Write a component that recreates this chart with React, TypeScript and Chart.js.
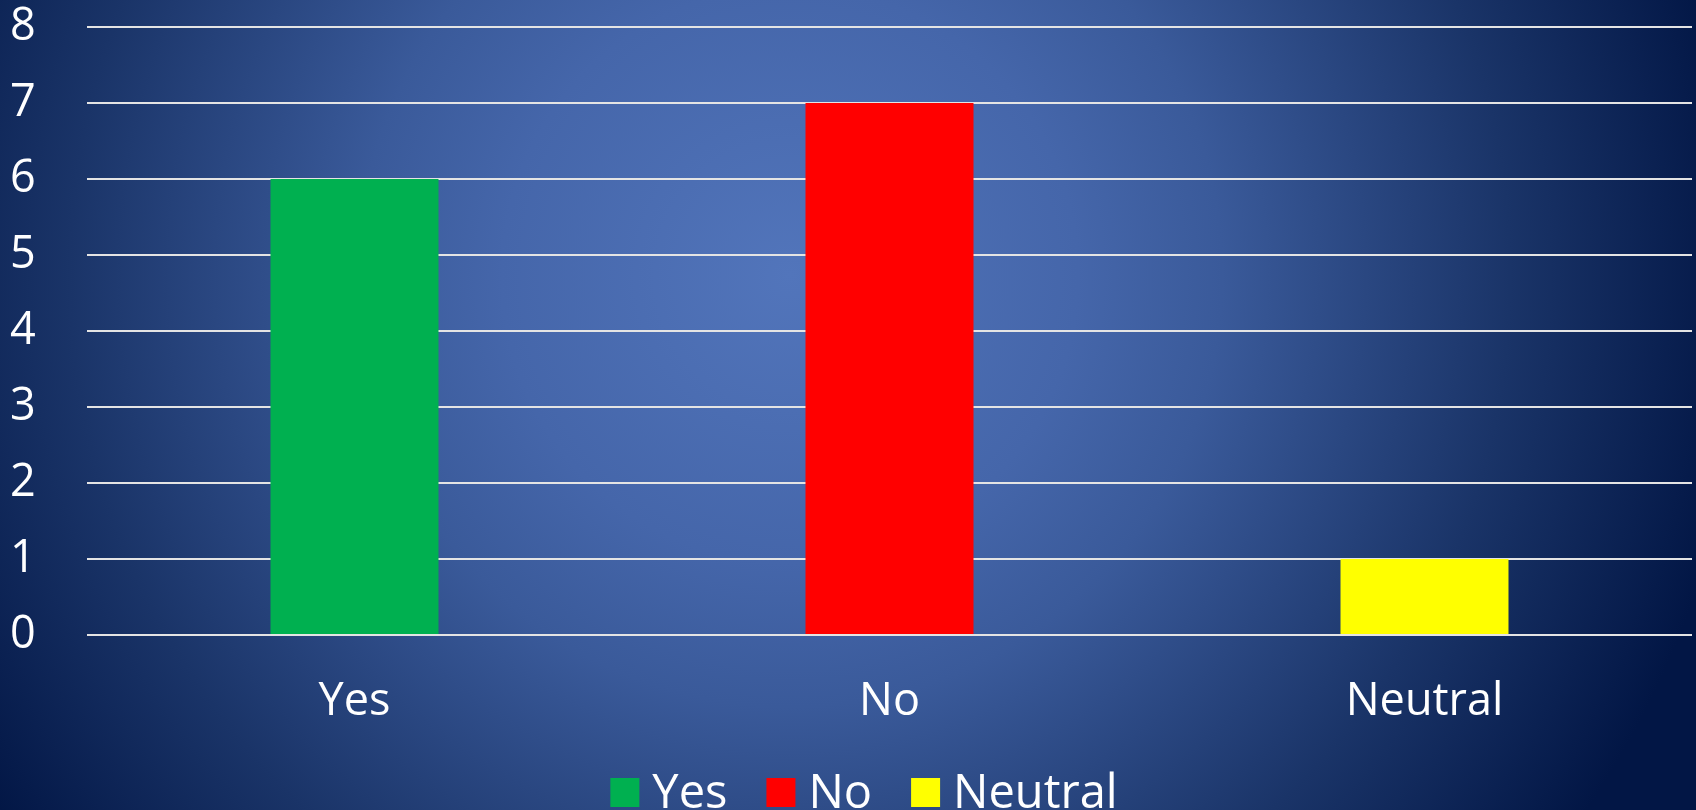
import React, { useEffect, useRef } from "react";
import { Chart, registerables } from "chart.js";

Chart.register(...registerables);

const categories = ["Yes", "No", "Neutral"];
const values = [6, 7, 1];
const barColors = ["#00b050", "#ff0000", "#ffff00"];
const yTicks = [0, 1, 2, 3, 4, 5, 6, 7, 8];

const FONT = "'Open Sans', 'Noto Sans', sans-serif";
const W = 1696;
const H = 810;

const bgPlugin = {
  id: "bg",
  beforeDraw(chart: any) {
    const { ctx, width, height } = chart;
    ctx.save();
    const g = ctx.createRadialGradient(790, 275, 0, 790, 275, 960);
    g.addColorStop(0, "#5275bb");
    g.addColorStop(0.3, "#4566aa");
    g.addColorStop(0.45, "#3a5a9a");
    g.addColorStop(0.75, "#1a3468");
    g.addColorStop(1, "#021645");
    ctx.fillStyle = g;
    ctx.fillRect(0, 0, width, height);
    ctx.restore();
  },
};

// Office-style legend: small square, tight gap to text, wider gap between entries
const legendPlugin = {
  id: "officeLegend",
  afterDraw(chart: any) {
    const { ctx } = chart;
    const box = 29;
    const gapBoxText = 13;
    const gapItems = 39;
    const centerX = 864;
    const boxTop = 778;
    const baseline = 808;
    ctx.save();
    ctx.font = `47px ${FONT}`;
    const widths = categories.map((c) => ctx.measureText(c).width);
    const total =
      widths.reduce((s, w) => s + box + gapBoxText + w, 0) + gapItems * (categories.length - 1);
    let x = centerX - total / 2;
    categories.forEach((c, i) => {
      ctx.fillStyle = barColors[i];
      ctx.fillRect(x, boxTop, box, box);
      x += box + gapBoxText;
      ctx.fillStyle = "#ffffff";
      ctx.textBaseline = "alphabetic";
      ctx.textAlign = "left";
      ctx.fillText(c, x, baseline);
      x += widths[i] + gapItems;
    });
    ctx.restore();
  },
};

export default function App() {
  const ref = useRef<HTMLCanvasElement>(null);
  useEffect(() => {
    if (!ref.current) return;
    const chart = new Chart(ref.current, {
      type: "bar",
      data: {
        labels: categories,
        datasets: [
          {
            label: "Series",
            data: values,
            backgroundColor: barColors,
            borderWidth: 0,
            barPercentage: 0.314,
            categoryPercentage: 1,
          },
        ],
      },
      plugins: [bgPlugin, legendPlugin],
      options: {
        responsive: false,
        animation: false,
        layout: { padding: { top: 0, right: 4, left: 10, bottom: 0 } },
        plugins: {
          tooltip: { enabled: false },
          legend: { display: false },
        },
        scales: {
          x: {
            grid: { display: false, drawTicks: false },
            border: { display: false },
            afterFit(axis: any) {
              axis.height = 175;
            },
            ticks: {
              color: "#ffffff",
              font: { family: FONT, size: 45 },
              padding: 40,
            },
          },
          y: {
            min: 0,
            max: 8,
            afterFit(axis: any) {
              axis.width = 77;
            },
            afterBuildTicks(axis: any) {
              axis.ticks = yTicks.map((v) => ({ value: v }));
            },
            grid: { color: "#e4e4e4", lineWidth: 2, drawTicks: false },
            border: { display: false },
            ticks: {
              color: "#ffffff",
              font: { family: FONT, size: 45 },
              padding: 0,
              crossAlign: "far",
            },
          },
        },
      },
    });
    return () => chart.destroy();
  }, []);
  return (
    <div style={{ position: "fixed", top: 0, left: 0, width: W, height: H, overflow: "hidden" }}>
      <canvas ref={ref} width={W} height={H} style={{ display: "block" }} />
    </div>
  );
}
